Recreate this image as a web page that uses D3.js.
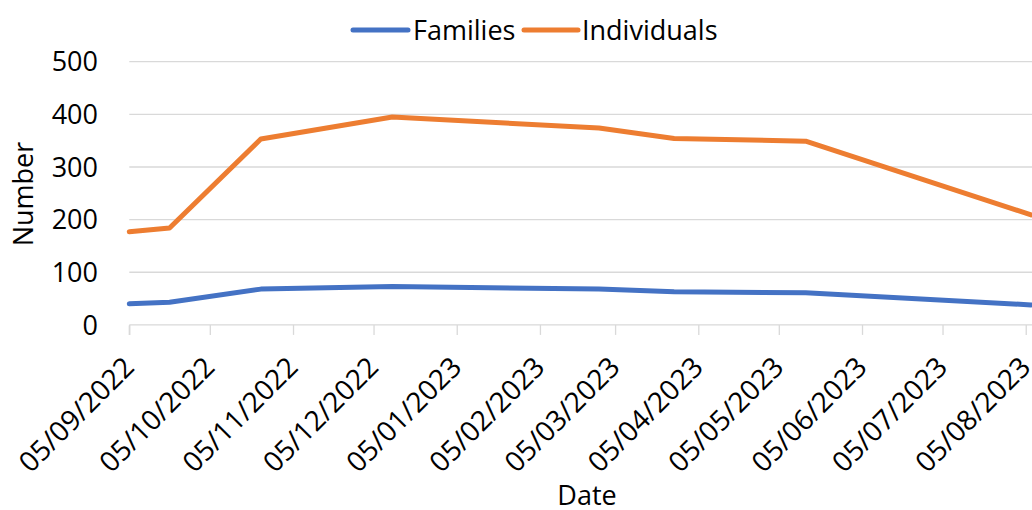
<!DOCTYPE html>
<html>
<head>
<meta charset="utf-8">
<script src="https://cdn.jsdelivr.net/npm/d3@7"></script>
<style>
  html, body { margin: 0; padding: 0; background: #fff; overflow: hidden; }
  svg { display: block; }
  text { font-family: "Open Sans", "Noto Sans", sans-serif; fill: #000; }
</style>
</head>
<body>
<svg id="chart" width="1032" height="510"></svg>
<script>
// ---- Data ----
const dates = ["05/09/2022", "20/09/2022", "24/10/2022", "12/12/2022", "27/02/2023", "27/03/2023", "15/05/2023", "07/08/2023"];
const families = [40, 43, 68, 73, 68, 63, 61, 38];
const individuals = [177, 184, 353, 395, 374, 354, 349, 209];
const seriesNames = ["Families", "Individuals"];
const xTickLabels = ["05/09/2022", "05/10/2022", "05/11/2022", "05/12/2022", "05/01/2023", "05/02/2023", "05/03/2023", "05/04/2023", "05/05/2023", "05/06/2023", "05/07/2023", "05/08/2023"];
const yTicks = [0, 100, 200, 300, 400, 500];

// ---- Setup ----
const parse = d3.utcParse("%d/%m/%Y");
const fmt = d3.utcFormat("%d/%m/%Y");
const colors = ["#4472C4", "#ED7D31"];
const svg = d3.select("#chart");

const plotLeft = 129.3, plotRight = 1031.1, plotTop = 61.7, plotBottom = 324.9;
const parsedDates = dates.map(parse);
const x = d3.scaleUtc().domain([parsedDates[0], parsedDates[parsedDates.length - 1]]).range([plotLeft, plotRight]);
const y = d3.scaleLinear().domain([0, 500]).range([plotBottom, plotTop]);

// gridlines
svg.append("g").selectAll("line").data(yTicks.filter(d => d > 0)).join("line")
  .attr("x1", plotLeft).attr("x2", 1040)
  .attr("y1", d => y(d)).attr("y2", d => y(d))
  .attr("stroke", "#D9D9D9").attr("stroke-width", 1.3);

// y axis labels
svg.append("g").selectAll("text").data(yTicks).join("text")
  .attr("x", 98).attr("y", d => y(d)).attr("dy", "0.36em")
  .attr("text-anchor", "end").attr("font-size", 27)
  .text(d => d);

// x axis
const xAxis = d3.axisBottom(x)
  .tickValues(xTickLabels.map(parse))
  .tickSize(10)
  .tickSizeOuter(0)
  .tickFormat(fmt);
const gx = svg.append("g").attr("transform", `translate(0,${plotBottom})`).call(xAxis);
gx.select(".domain").attr("stroke", "#D9D9D9").attr("stroke-width", 1.3)
  .attr("d", `M${plotLeft},0.5V10M${plotLeft},0H1040`);
gx.selectAll(".tick line").attr("stroke", "#D9D9D9").attr("stroke-width", 1.3);
gx.selectAll(".tick text")
  .attr("font-size", 28)
  .attr("font-family", "Open Sans, Noto Sans, sans-serif")
  .attr("fill", "#000")
  .attr("text-anchor", "end")
  .attr("y", 0).attr("dy", 0)
  .attr("transform", "translate(6,44) rotate(-45)");

// lines
const line = d3.line().x((d, i) => x(parsedDates[i])).y(d => y(d));
[families, individuals].forEach((vals, k) => {
  svg.append("path").datum(vals)
    .attr("d", line)
    .attr("fill", "none")
    .attr("stroke", colors[k])
    .attr("stroke-width", 5)
    .attr("stroke-linejoin", "round")
    .attr("stroke-linecap", "round");
});

// axis titles
svg.append("text").attr("x", 587).attr("y", 505).attr("text-anchor", "middle")
  .attr("font-size", 27).text("Date");
svg.append("text").attr("transform", "translate(33,194) rotate(-90)")
  .attr("text-anchor", "middle").attr("font-size", 27).text("Number");

// legend
const legendItems = [
  { name: seriesNames[0], color: colors[0], x1: 353, x2: 408, tx: 413 },
  { name: seriesNames[1], color: colors[1], x1: 524, x2: 578, tx: 582 }
];
const lg = svg.append("g");
legendItems.forEach(it => {
  lg.append("line").attr("x1", it.x1).attr("x2", it.x2).attr("y1", 30).attr("y2", 30)
    .attr("stroke", it.color).attr("stroke-width", 5).attr("stroke-linecap", "round");
  lg.append("text").attr("x", it.tx).attr("y", 30).attr("dy", "0.36em")
    .attr("font-size", 27).text(it.name);
});
</script>
</body>
</html>
